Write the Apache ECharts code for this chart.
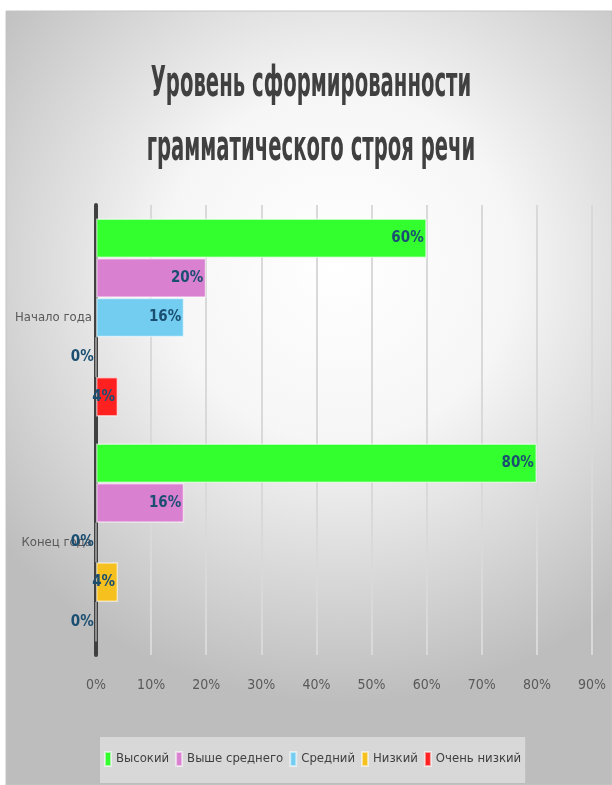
<!DOCTYPE html>
<html><head><meta charset="utf-8">
<script src="https://cdn.jsdelivr.net/npm/echarts@6/dist/echarts.min.js"></script>
<style>html,body{margin:0;padding:0;background:#fff;}#c{width:612px;height:785px;}</style>
</head><body><div id="c"></div>
<script>
var categories = ['Начало года', 'Конец года'];
var seriesNames = ['Высокий', 'Выше среднего', 'Средний', 'Низкий', 'Очень низкий'];
var high = [60, 80];
var aboveAvg = [20, 16];
var medium = [16, 0];
var low = [0, 4];
var veryLow = [4, 0];
var xTicks = [0, 10, 20, 30, 40, 50, 60, 70, 80, 90];
var colors = ['#33FF2E', '#DA80D0', '#72CDF0', '#F6C11E', '#FF2020'];
var titleLines = ['Уровень сформированности', 'грамматического строя речи'];

var FONT = '"DejaVu Sans Condensed","Liberation Sans Narrow","Roboto",sans-serif';
var values = [high, aboveAvg, medium, low, veryLow];
var chart = echarts.init(document.getElementById('c'));
var series = seriesNames.map(function (n, i) {
  return {
    name: n, type: 'bar', data: values[i], barGap: '0%', barCategoryGap: '12%',
    itemStyle: { color: colors[i], borderColor: 'rgba(255,255,255,0.55)', borderWidth: 1.5 },
    label: { show: true, position: 'insideRight', distance: 3, formatter: '{c}%',
      color: '#1B4F72', fontWeight: 'bold', fontSize: 15, fontFamily: FONT }
  };
});
chart.setOption({
  animation: false,
  color: colors,
  graphic: [
    { type: 'rect', z: -10, shape: { x: 6, y: 11, width: 606, height: 774 },
      style: { fill: { type: 'radial', x: 0.55, y: 0.33, r: 0.72,
        colorStops: [{ offset: 0, color: '#ffffff' }, { offset: 0.4, color: '#f6f6f6' }, { offset: 1, color: '#bdbdbd' }] },
        stroke: '#c4c4c4', lineWidth: 1 } },
    { type: 'text', x: 311, y: 85, scaleX: 0.52, z: 5,
      style: { text: titleLines[0], textAlign: 'center', textVerticalAlign: 'middle',
        font: 'bold 42px ' + FONT, fill: '#404040' } },
    { type: 'text', x: 311, y: 149, scaleX: 0.52, z: 5,
      style: { text: titleLines[1], textAlign: 'center', textVerticalAlign: 'middle',
        font: 'bold 42px ' + FONT, fill: '#404040' } }
  ],
  grid: { left: 96, right: 20, top: 205, bottom: 130, containLabel: false, outerBoundsMode: 'none' },
  legend: {
    data: seriesNames, left: 100, top: 737, width: 422,
    backgroundColor: '#d8d8d8', padding: [14, 4, 16, 4], itemGap: 6,
    itemWidth: 6, itemHeight: 14, icon: 'rect',
    textStyle: { color: '#404040', fontSize: 13, fontFamily: FONT }
  },
  xAxis: {
    type: 'value', min: 0, max: 90, interval: 10,
    axisLabel: { formatter: '{value}%', color: '#595959', fontSize: 14, fontFamily: FONT, margin: 23 },
    splitLine: { show: true, lineStyle: { color: '#d9d9d9', width: 2 } },
    axisLine: { show: false }, axisTick: { show: false }
  },
  yAxis: {
    type: 'category', data: categories, inverse: true,
    axisLine: { show: true, lineStyle: { color: '#404040', width: 4 } },
    axisTick: { show: false },
    axisLabel: { color: '#595959', fontSize: 13, fontFamily: FONT, margin: 4 }
  },
  series: series
});
</script></body></html>
